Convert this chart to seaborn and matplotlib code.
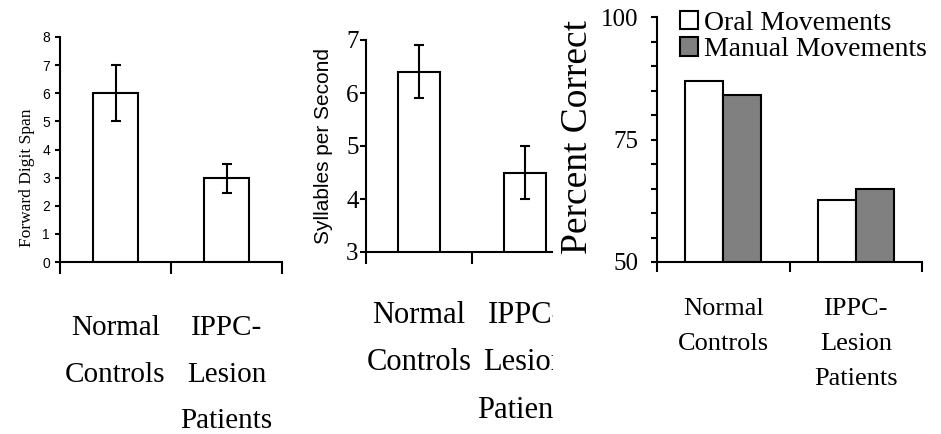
import numpy as np
import pandas as pd
import matplotlib
matplotlib.use("Agg")
import matplotlib.pyplot as plt
import seaborn as sns
from matplotlib.transforms import Bbox, TransformedBbox
from matplotlib.ticker import MultipleLocator, FixedLocator, NullLocator

# ---------------- data ----------------
groups = ["Normal Controls", "IPPC-Lesion Patients"]
label_lines = [["Normal", "Controls"], ["IPPC-", "Lesion", "Patients"]]

digit_span = [6.0, 3.0]
digit_span_lo = [5.0, 2.45]
digit_span_hi = [7.0, 3.5]

syllables = [6.4, 4.5]
syllables_lo = [5.9, 4.0]
syllables_hi = [6.9, 5.0]

conditions = ["Oral Movements", "Manual Movements"]
oral_pct = [87.0, 62.6]
manual_pct = [84.0, 65.0]

# ---------------- style ----------------
sns.set_theme(style="ticks")
plt.rcParams.update({
    "font.family": ["Liberation Serif", "DejaVu Serif"],
    "axes.edgecolor": "black",
    "axes.linewidth": 1.5,
    "xtick.color": "black",
    "ytick.color": "black",
    "text.color": "black",
    "axes.labelcolor": "black",
})
SANS = ["Liberation Sans", "DejaVu Sans"]
SERIF = ["Liberation Serif", "DejaVu Serif"]

W, H = 941, 434
fig = plt.figure(figsize=(W / 100, H / 100), dpi=100)


def px_axes(l, t, r, b):
    return fig.add_axes([l / W, 1 - b / H, (r - l) / W, (b - t) / H])


ax1 = px_axes(60, 37, 282, 262)
ax2 = px_axes(366, 40, 552, 252)
ax3 = px_axes(657, 17, 922, 262)
PX = 0.72  # points per pixel at 100 dpi


def base_style(ax, xlim, xticks, xtick_len):
    sns.despine(ax=ax)
    ax.set_xlim(*xlim)
    ax.xaxis.set_major_locator(FixedLocator(xticks))
    ax.xaxis.set_minor_locator(NullLocator())
    ax.set_xticklabels([])
    ax.set_xlabel("")
    ax.tick_params(axis="x", which="major", length=xtick_len, width=1.5, direction="out")
    for s in ("left", "bottom"):
        ax.spines[s].set_linewidth(1.5)
        ax.spines[s].set_color("black")


def cat_labels(ax, lines_list, fontsize, baselines, bottom_px, clip_right=None, **kw):
    for i, lines in enumerate(lines_list):
        for j, line in enumerate(lines):
            t = ax.annotate(line, xy=(i, 0), xycoords=("data", "axes fraction"),
                            xytext=(0, -(baselines[j] - bottom_px) * PX),
                            textcoords="offset points", ha="center", va="baseline",
                            fontsize=fontsize, annotation_clip=False,
                            family=SERIF, **kw)
            if clip_right is not None:
                t.set_clip_on(True)
                t.set_clip_box(TransformedBbox(Bbox([[0, 0], [clip_right / W, 1]]),
                                               fig.transFigure))


# ---------------- panel 1 ----------------
df1 = pd.DataFrame({"group": groups, "value": digit_span})
sns.barplot(data=df1, x="group", y="value", color="white", saturation=1,
            edgecolor="black", linewidth=1.5, width=0.41, errorbar=None, ax=ax1)
yerr1 = [np.subtract(digit_span, digit_span_lo), np.subtract(digit_span_hi, digit_span)]
ax1.errorbar(np.arange(len(groups)), digit_span, yerr=yerr1, fmt="none", ecolor="black",
             elinewidth=1.5, capsize=3.5, capthick=1.5, zorder=4)
base_style(ax1, (-0.5, 1.5), [-0.5, 0.5, 1.5], 12 * PX)
ax1.set_ylim(0, 8)
ax1.set_yticks(range(0, 9))
ax1.tick_params(axis="y", length=5 * PX, width=1.5, pad=5 * PX, labelsize=10)
for lb in ax1.get_yticklabels():
    lb.set_family(SANS)
ax1.set_ylabel("Forward Digit Span", fontsize=12.5, family=SERIF)
ax1.yaxis.set_label_coords(-0.113, 0.373)
cat_labels(ax1, label_lines, 21, [335, 382, 428], 262)

# ---------------- panel 2 ----------------
df2 = pd.DataFrame({"group": groups, "value": syllables})
sns.barplot(data=df2, x="group", y="value", color="white", saturation=1,
            edgecolor="black", linewidth=1.5, width=0.4, errorbar=None, ax=ax2)
yerr2 = [np.subtract(syllables, syllables_lo), np.subtract(syllables_hi, syllables)]
ax2.errorbar(np.arange(len(groups)), syllables, yerr=yerr2, fmt="none", ecolor="black",
             elinewidth=1.5, capsize=3.5, capthick=1.5, zorder=4)
base_style(ax2, (-0.5, 1.255), [-0.5, 0.5], 12 * PX)
ax2.set_ylim(3, 7)
ax2.set_yticks(range(3, 8))
ax2.tick_params(axis="y", length=6 * PX, width=1.5, pad=1, labelsize=18)
for lb in ax2.get_yticklabels():
    lb.set_family(SERIF)
ax2.set_ylabel("Syllables per Second", fontsize=15, family=SANS)
ax2.yaxis.set_label_coords(-0.177, 0.5)
cat_labels(ax2, label_lines, 22, [323, 370, 418], 252, clip_right=553)

# ---------------- panel 3 ----------------
df3 = pd.DataFrame({
    "group": groups * 2,
    "condition": [conditions[0]] * 2 + [conditions[1]] * 2,
    "value": oral_pct + manual_pct,
})
sns.barplot(data=df3, x="group", y="value", hue="condition",
            palette=["white", "#808080"], saturation=1, edgecolor="black",
            linewidth=1.5, width=0.57, errorbar=None, ax=ax3)
base_style(ax3, (-0.5, 1.5), [-0.5, 0.5, 1.5], 10 * PX)
ax3.set_ylim(50, 100)
ax3.set_yticks([50, 75, 100])
ax3.yaxis.set_minor_locator(MultipleLocator(5))
ax3.tick_params(axis="y", which="both", length=6 * PX, width=1.5, pad=9, labelsize=18)
for lb in ax3.get_yticklabels():
    lb.set_family(SERIF)
ax3.set_ylabel("Percent Correct", fontsize=27, family=SERIF)
ax3.yaxis.set_label_coords(-0.234, 0.51)
handles, labels = ax3.get_legend_handles_labels()
ax3.legend(handles, labels, loc="upper left", bbox_to_anchor=(0.087, 1.025),
           frameon=False, prop={"family": SERIF, "size": 20},
           handlelength=0.65, handleheight=0.65, handletextpad=0.2,
           labelspacing=0.05, borderpad=0, borderaxespad=0)
cat_labels(ax3, label_lines, 19, [315, 350, 385], 262)

fig.savefig("out.png", dpi=100)
